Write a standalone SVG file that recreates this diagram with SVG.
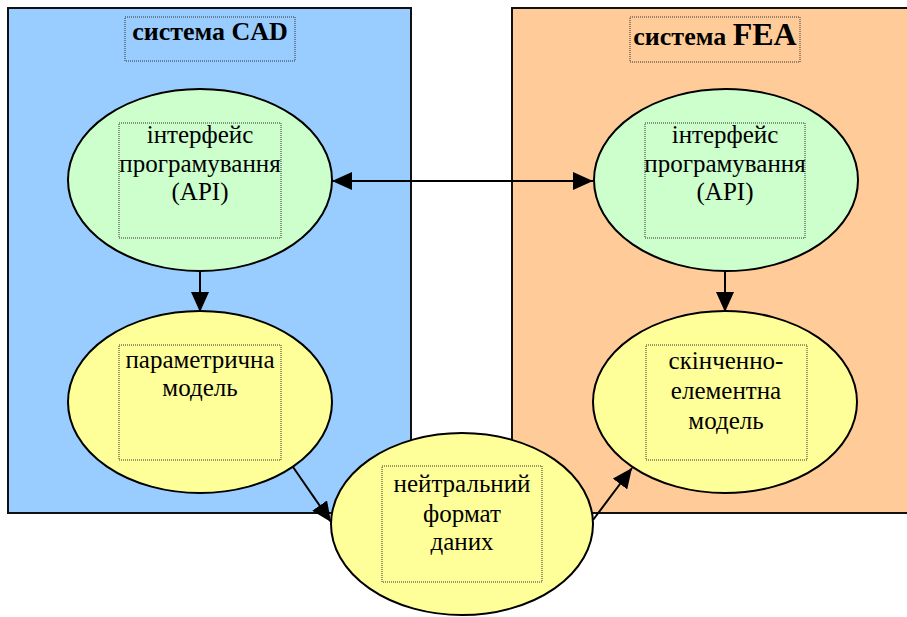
<svg xmlns="http://www.w3.org/2000/svg" width="907" height="617" viewBox="0 0 907 617">
<style>
.sys{stroke:#111;stroke-width:2}
.node{stroke:#000;stroke-width:2}
.green{fill:#CCFFCC}
.yellow{fill:#FFFF99}
.dot{fill:none;stroke:#333;stroke-width:1;stroke-dasharray:1 1}
.t{font-family:"Liberation Serif","Times New Roman",serif;font-size:25px;fill:#000;text-anchor:middle}
.tb{font-family:"Liberation Serif","Times New Roman",serif;font-size:26px;font-weight:bold;fill:#000;text-anchor:middle}
.edge{stroke:#000;stroke-width:2;fill:none}
</style>
<defs>
<marker id="ah" viewBox="0 0 20 18" refX="20" refY="9" markerWidth="20" markerHeight="18" markerUnits="userSpaceOnUse" orient="auto-start-reverse">
<path d="M0,0 L20,9 L0,18 Z" fill="#000"/>
</marker>
</defs>
<rect width="907" height="617" fill="#fff"/>
<g id="cad-system">
<rect class="sys" x="8" y="8" width="403" height="505" fill="#99CCFF"/>
<rect class="dot" x="125" y="17" width="170" height="44"/>
<text class="tb" x="210" y="40">система CAD</text>
</g>
<g id="fea-system">
<rect class="sys" x="512" y="8" width="400" height="505" fill="#FFCC99"/>
<rect class="dot" x="630" y="17" width="170" height="45"/>
<text class="tb" x="715" y="45">система <tspan font-size="32">FEA</tspan></text>
</g>
<g id="connectors">
<line class="edge" x1="332" y1="181" x2="593" y2="181" marker-start="url(#ah)" marker-end="url(#ah)"/>
<line class="edge" x1="200" y1="270" x2="200" y2="312" marker-end="url(#ah)"/>
<line class="edge" x1="725" y1="270" x2="725" y2="312" marker-end="url(#ah)"/>
<line class="edge" x1="293" y1="467" x2="331" y2="522" marker-end="url(#ah)"/>
<line class="edge" x1="593" y1="520" x2="632" y2="468" marker-end="url(#ah)"/>
</g>
<g id="cad-api">
<ellipse class="node green" cx="200" cy="180" rx="132" ry="91"/>
<rect class="dot" x="119" y="123" width="162" height="115"/>
<text class="t" x="200" y="143">інтерфейс</text>
<text class="t" x="200" y="172">програмування</text>
<text class="t" x="200" y="200">(API)</text>
</g>
<g id="fea-api">
<ellipse class="node green" cx="726" cy="180" rx="132" ry="91"/>
<rect class="dot" x="645" y="123" width="160" height="115"/>
<text class="t" x="725" y="143">інтерфейс</text>
<text class="t" x="725" y="172">програмування</text>
<text class="t" x="725" y="200">(API)</text>
</g>
<g id="param-model">
<ellipse class="node yellow" cx="200" cy="402" rx="132" ry="91"/>
<rect class="dot" x="119" y="345" width="162" height="115"/>
<text class="t" x="200" y="368">параметрична</text>
<text class="t" x="200" y="396">модель</text>
</g>
<g id="fe-model">
<ellipse class="node yellow" cx="725" cy="402" rx="132" ry="91"/>
<rect class="dot" x="646" y="345" width="161" height="115"/>
<text class="t" x="726" y="369">скінченно-</text>
<text class="t" x="726" y="399">елементна</text>
<text class="t" x="726" y="429">модель</text>
</g>
<g id="neutral-format">
<ellipse class="node yellow" cx="462" cy="524" rx="131" ry="91"/>
<rect class="dot" x="382" y="466" width="160" height="116"/>
<text class="t" x="462" y="492">нейтральний</text>
<text class="t" x="462" y="522">формат</text>
<text class="t" x="462" y="550">даних</text>
</g>
</svg>
